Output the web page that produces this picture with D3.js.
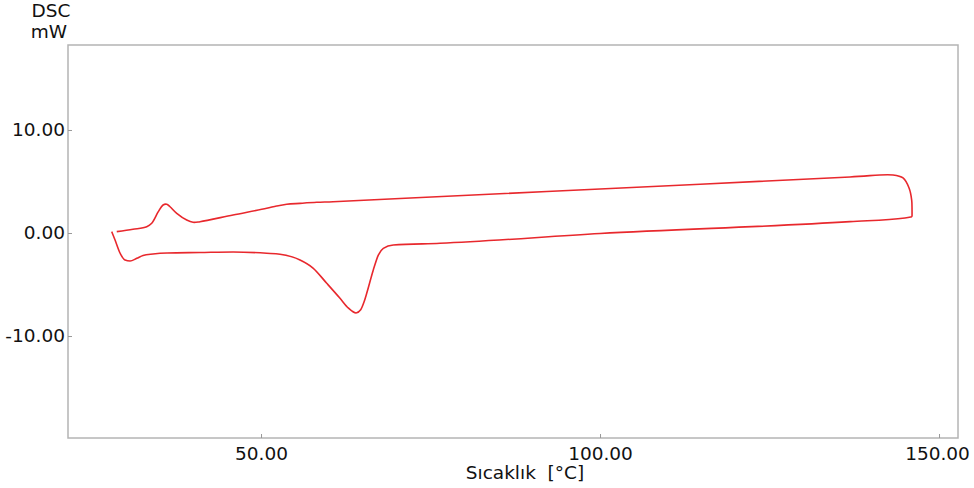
<!DOCTYPE html>
<html>
  <head>
    <meta charset="utf-8" />
    <title>DSC</title>
    <script src="https://d3js.org/d3.v7.min.js"></script>
    <style>
        body{ margin:0; background:#fff; }
        text{ font-family:"DejaVu Sans", sans-serif; fill:#111; }
    </style>
  </head>
  <body>
    <svg id="chart"></svg>
    <script>
      // heating run (lower curve), temperature in °C and heat flow in mW
      var heatT = [27.98, 28.47, 29.20, 29.94, 30.68, 31.67, 32.60, 34.07, 36.14, 41.0, 45.87, 50.84, 52.80, 55.75, 57.67, 59.69, 61.65, 62.90, 64.01, 64.70, 65.19, 65.59, 66.56, 67.30, 68.04, 69.51, 76.40, 100.0, 136.87, 144.98, 146.02];
      var heatW = [0.13, -0.68, -1.94, -2.62, -2.72, -2.46, -2.18, -2.04, -1.94, -1.89, -1.84, -1.97, -2.07, -2.62, -3.40, -4.88, -6.34, -7.30, -7.76, -7.45, -6.70, -5.85, -3.59, -2.14, -1.49, -1.17, -1.00, -0.05, 1.10, 1.46, 1.58];
      // cooling run (upper curve)
      var coolT = [146.02, 146.02, 145.97, 145.58, 144.69, 143.22, 136.87, 100.0, 70.50, 60.62, 58.22, 55.75, 53.79, 52.30, 50.84, 45.87, 41.0, 39.97, 39.04, 37.57, 36.58, 36.09, 35.55, 34.85, 33.88, 33.14, 31.12, 28.72];
      var coolW = [1.58, 2.23, 3.20, 4.37, 5.34, 5.63, 5.44, 4.27, 3.35, 3.04, 2.98, 2.88, 2.79, 2.62, 2.40, 1.75, 1.10, 1.04, 1.26, 1.91, 2.55, 2.79, 2.72, 2.07, 0.94, 0.61, 0.36, 0.13];

      var xTicks = [50, 100, 150];
      var yTicks = [10, 0, -10];

      var width = 974, height = 488;
      var plot = {left: 68, right: 958, top: 45, bottom: 438};
      var fontSize = "18.5px";

      var svg = d3.select("#chart").attr("width", width).attr("height", height);

      var x = d3.scaleLinear().domain([21.53, 152.8]).range([plot.left, plot.right]);
      var y = d3.scaleLinear().domain([-19.9, 18.25]).range([plot.bottom, plot.top]);

      var fmt = function(d) { return d.toFixed(2); };

      // frame
      svg.append("rect")
        .attr("x", plot.left).attr("y", plot.top)
        .attr("width", plot.right - plot.left).attr("height", plot.bottom - plot.top)
        .attr("fill", "none").attr("stroke", "#b4b4b4").attr("stroke-width", 1.5);

      var xAxis = svg.append("g")
        .attr("transform", "translate(0," + plot.bottom + ")")
        .call(d3.axisBottom(x).tickValues(xTicks).tickSize(-4).tickPadding(9).tickFormat(fmt));
      var yAxis = svg.append("g")
        .attr("transform", "translate(" + plot.left + ",0)")
        .call(d3.axisLeft(y).tickValues(yTicks).tickSize(-4).tickPadding(3).tickFormat(fmt));

      [xAxis, yAxis].forEach(function(a) {
        a.select(".domain").remove();
        a.selectAll(".tick line").attr("stroke", "#999");
        a.selectAll(".tick text").style("font-size", fontSize).attr("fill", "#111");
      });
      yAxis.selectAll(".tick text").attr("x", -3);
      // last x label sits slightly inside the canvas
      xAxis.selectAll(".tick text").filter(function(d) { return d === 150; }).attr("dx", -2);

      function lineWith(curve) {
        return d3.line()
          .x(function(d) { return x(d[0]); })
          .y(function(d) { return y(d[1]); })
          .curve(curve);
      }

      // heating goes strictly left to right, cooling turns back at the top end
      var runs = [
        {t: heatT, w: heatW, curve: d3.curveMonotoneX},
        {t: coolT, w: coolW, curve: d3.curveCatmullRom.alpha(0.5)}
      ];

      runs.forEach(function(s) {
        svg.append("path")
          .datum(d3.zip(s.t, s.w))
          .attr("d", lineWith(s.curve))
          .attr("fill", "none")
          .attr("stroke", "#e8282d")
          .attr("stroke-width", 1.6);
      });

      svg.append("text").attr("x", 51).attr("y", 17).attr("text-anchor", "middle")
        .style("font-size", fontSize).text("DSC");
      svg.append("text").attr("x", 49).attr("y", 38).attr("text-anchor", "middle")
        .style("font-size", fontSize).text("mW");
      svg.append("text").attr("x", 525).attr("y", 479).attr("text-anchor", "middle")
        .style("font-size", fontSize).attr("xml:space", "preserve").text("Sıcaklık  [°C]");
    </script>
  </body>
</html>
